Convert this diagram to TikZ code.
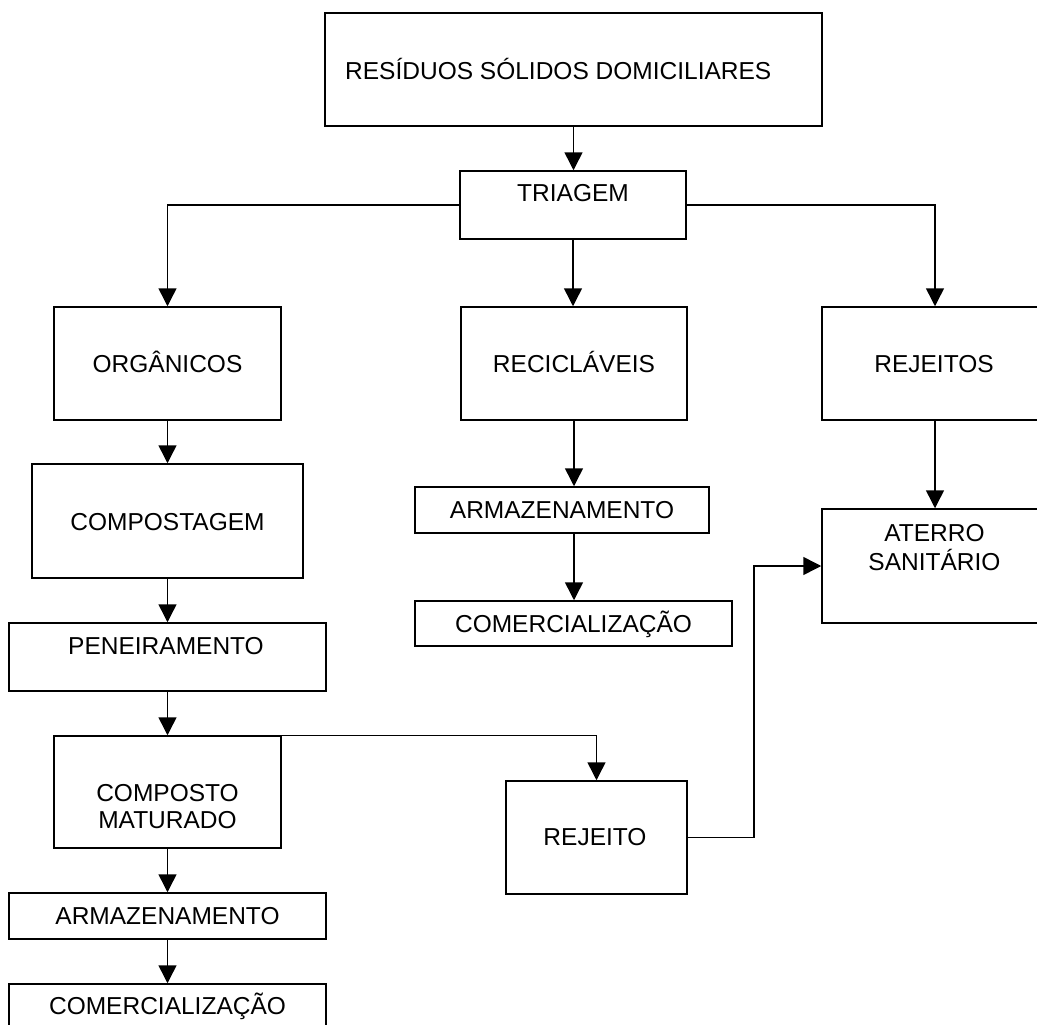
\documentclass[tikz,border=0pt]{standalone}
\usepackage{fontspec}
\setmainfont{Liberation Sans}
\usetikzlibrary{arrows.meta}
\tikzset{
  box/.style={draw, line width=1.5pt, inner sep=0pt},
  txt/.style={font=\fontsize{24.5pt}{28pt}\selectfont, inner sep=0pt, anchor=base},
  arr/.style={line width=1.5pt, -{Triangle[length=18pt,width=18pt]}}
}
\begin{document}
\begin{tikzpicture}[x=1pt,y=-1pt]
\useasboundingbox (0,0) rectangle (1037,1025);
\fill[white] (0,0) rectangle (1037,1025);
\clip (0,0) rectangle (1037,1025);
% boxes
\node[box, minimum width=497pt, minimum height=113pt] (res) at (573.5,69.5) {};
\node[box, minimum width=226pt, minimum height=68pt] (tri) at (573,205) {};
\node[box, minimum width=227pt, minimum height=113pt] (org) at (167.5,363.5) {};
\node[box, minimum width=226pt, minimum height=113pt] (rec) at (574,363.5) {};
\node[box, minimum width=226pt, minimum height=113pt] (rej) at (935,363.5) {};
\node[box, minimum width=271pt, minimum height=114pt] (cpg) at (167.5,521) {};
\node[box, minimum width=294pt, minimum height=46pt] (arm1) at (562,510) {};
\node[box, minimum width=317pt, minimum height=45pt] (com1) at (573.5,623.5) {};
\node[box, minimum width=226pt, minimum height=114pt] (ate) at (935,566) {};
\node[box, minimum width=317pt, minimum height=68pt] (pen) at (167.5,657) {};
\node[box, minimum width=227pt, minimum height=112pt] (cmt) at (167.5,792) {};
\node[box, minimum width=181pt, minimum height=113pt] (rjo) at (596.5,837.5) {};
\node[box, minimum width=317pt, minimum height=46pt] (arm2) at (167.5,916) {};
\node[box, minimum width=317pt, minimum height=46pt] (com2) at (167.5,1007) {};
% texts
\node[txt, anchor=base west] (res-t) at (345,79.8) {RESÍDUOS SÓLIDOS DOMICILIARES};
\node[txt] (tri-t) at (573,201.8) {TRIAGEM};
\node[txt] (org-t) at (167.5,372.3) {ORGÂNICOS};
\node[txt] (rec-t) at (574,372.3) {RECICLÁVEIS};
\node[txt] (rej-t) at (934,372.3) {REJEITOS};
\node[txt] (cpg-t) at (167.5,530.8) {COMPOSTAGEM};
\node[txt] (arm1-t) at (562,518.8) {ARMAZENAMENTO};
\node[txt] (com1-t) at (573.5,632) {COMERCIALIZAÇÃO};
\node[txt] (ate-t1) at (934.5,541.8) {ATERRO};
\node[txt] (ate-t2) at (934.5,570.8) {SANITÁRIO};
\node[txt] (pen-t) at (166,654.8) {PENEIRAMENTO};
\node[txt] (cmt-t1) at (167.5,801.5) {COMPOSTO};
\node[txt] (cmt-t2) at (167.5,828.8) {MATURADO};
\node[txt] (rjo-t) at (595,845.8) {REJEITO};
\node[txt] (arm2-t) at (167.5,924.8) {ARMAZENAMENTO};
\node[txt] (com2-t) at (167.5,1014.8) {COMERCIALIZAÇÃO};
% connectors
\coordinate (k) at (754,700);
\draw[arr] (res.south) -- (res.south |- tri.north);
\draw[arr] (tri.west) -| (org.north);
\draw[arr] (tri.south) -- (tri.south |- rec.north);
\draw[arr] (tri.east) -| (rej.north);
\draw[arr] (org.south) -- (cpg.north);
\draw[arr] (cpg.south) -- (pen.north);
\draw[arr] (pen.south) -- (cmt.north);
\draw[arr] (cmt.north) -| (rjo.north);
\draw[arr] (cmt.south) -- (arm2.north);
\draw[arr] (arm2.south) -- (com2.north);
\draw[arr] (rec.south) -- (rec.south |- arm1.north);
\draw[arr] (rec.south |- arm1.south) -- (rec.south |- com1.north);
\draw[arr] (rej.south) -- (ate.north);
\draw[arr] (rjo.east) -| (k) |- (ate.west);
\end{tikzpicture}
\end{document}
